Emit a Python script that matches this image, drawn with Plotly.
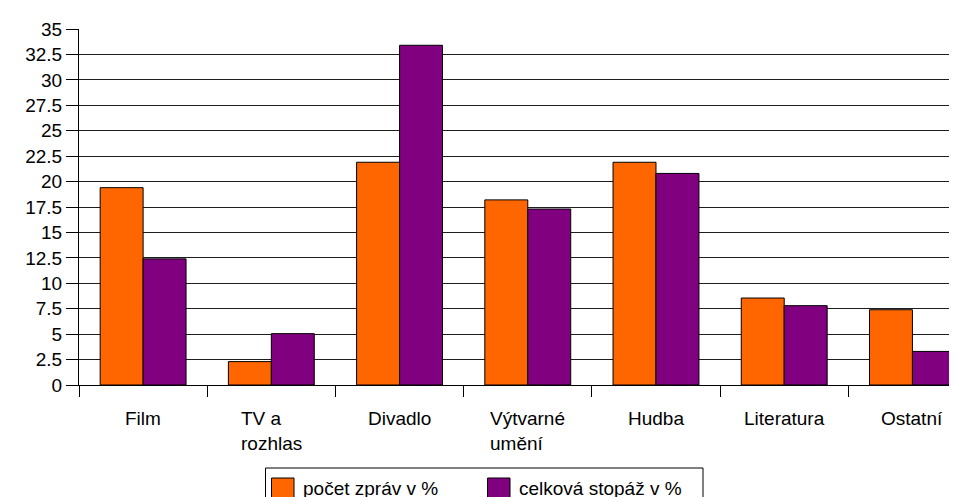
import plotly.graph_objs as go

# Data
kategorie = ['Film', 'TV a<br>rozhlas', 'Divadlo', 'Výtvarné<br>umění',
             'Hudba', 'Literatura', 'Ostatní']
pocet_zprav = [19.4, 2.3, 21.9, 18.2, 21.9, 8.55, 7.4]
stopaz = [12.4, 5.05, 33.4, 17.3, 20.8, 7.8, 3.3]
nazvy = ['počet zpráv v %', 'celková stopáž v %']
y_ticks = [0, 2.5, 5, 7.5, 10, 12.5, 15, 17.5, 20, 22.5, 25, 27.5, 30, 32.5, 35]

colores = ['#ff6600', '#800080']

W, H = 957, 497
M = dict(l=71, r=0, t=21, b=120)
FONT = 'Liberation Sans, Arial, sans-serif'


# pixel -> paper
def px(x):
    return (x - M['l']) / (W - M['l'] - M['r'])


def py(y):
    return (H - M['b'] - y) / (H - M['t'] - M['b'])


fig = go.Figure()
for serie, nombre, color in zip([pocet_zprav, stopaz], nazvy, colores):
    fig.add_trace(go.Bar(
        x=kategorie,
        y=serie,
        name=nombre,
        marker=dict(color=color, line=dict(color='black', width=1)),
        hoverinfo='y',
    ))

fig.update_layout(
    width=W, height=H,
    margin=M,
    barmode='group',
    bargap=0.33,
    bargroupgap=0,
    showlegend=False,
    plot_bgcolor='#fff',
    paper_bgcolor='#fff',
    font=dict(family=FONT, size=19, color='black'),
    xaxis=dict(
        type='category',
        range=[-0.5, 6.41],
        showline=True, linecolor='black', linewidth=1,
        ticks='outside', tickson='boundaries', ticklen=11, tickcolor='black',
        showticklabels=False, showgrid=False, zeroline=False,
    ),
    yaxis=dict(
        range=[0, 35],
        tickvals=y_ticks,
        ticktext=[('%g' % v) for v in y_ticks],
        showline=True, linecolor='black', linewidth=1,
        ticks='outside', ticklen=12, tickcolor='black',
        showgrid=True, gridcolor='#1e1e1e', gridwidth=1,
        zeroline=False,
        tickfont=dict(size=19),
    ),
)

# popisky kategorii
for k in kategorie:
    fig.add_annotation(
        x=k, xref='x', y=0, yref='paper', yanchor='top',
        yshift=-21, text=k, showarrow=False, align='left',
        font=dict(size=19),
    )

# legenda (rucne)
fig.add_shape(type='rect', xref='paper', yref='paper',
              x0=px(257.5), x1=px(695), y0=py(460), y1=py(503),
              line=dict(color='black', width=1), fillcolor='#fff')
for x0, nombre, color in zip([263.5, 479.5], nazvy, colores):
    fig.add_shape(type='rect', xref='paper', yref='paper',
                  x0=px(x0), x1=px(x0 + 22.5), y0=py(470), y1=py(491),
                  line=dict(color='black', width=1), fillcolor=color)
    fig.add_annotation(
        x=px(x0 + 30), xref='paper', y=py(480), yref='paper',
        xanchor='left', yanchor='middle', text=nombre, showarrow=False,
        borderpad=0, font=dict(size=19),
    )

fig.write_html('out.html')
